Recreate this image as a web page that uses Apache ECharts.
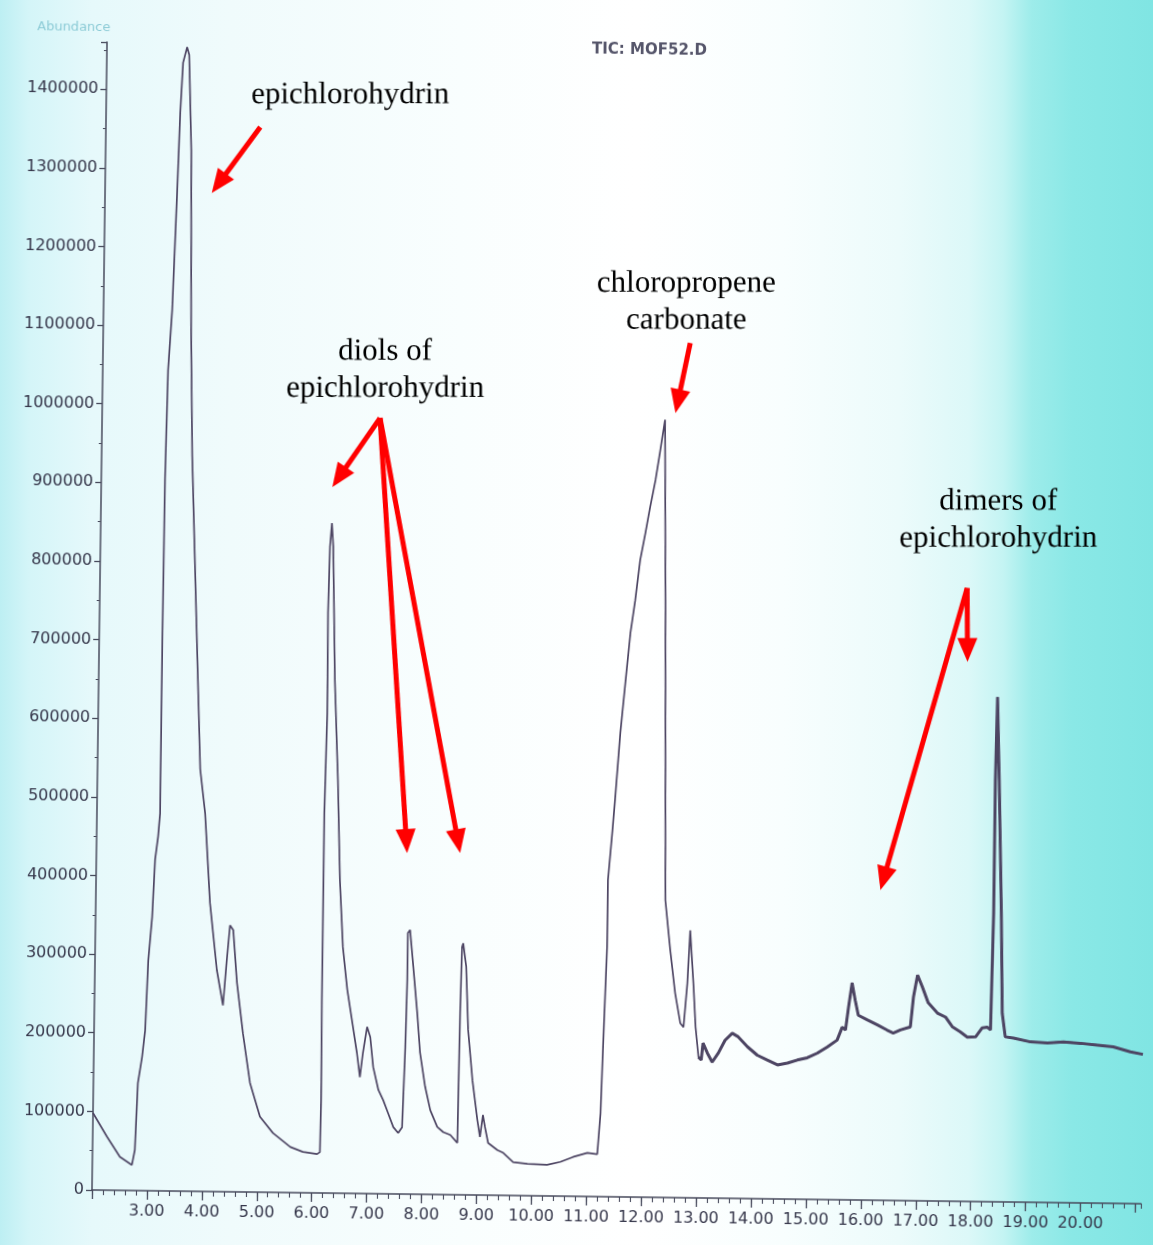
<!DOCTYPE html>
<html>
<head>
<meta charset="utf-8">
<script src="https://cdn.jsdelivr.net/npm/echarts/dist/echarts.min.js"></script>
<style>
html,body{margin:0;padding:0;width:1153px;height:1245px;overflow:hidden;}
body{background:linear-gradient(to right,#bdeff3 0%,#d4f5f8 2.5%,#e6f9fb 8%,#f0fbfc 20%,#f9fefe 40%,#ffffff 55%,#f8fefe 68%,#ecfbfb 78%,#dcf8f8 84%,#c4f4f3 87%,#9decea 89.5%,#8ae8e6 93%,#80e5e3 100%);}
#chart{position:absolute;left:0;top:0;width:1153px;height:1245px;transform-origin:92px 1190px;transform:rotate(0.75deg);}
</style>
</head>
<body>
<div id="chart"></div>
<script>
// Retention time (min)
const times = [
 2.00,2.26,2.50,2.72,2.77,2.81,2.88,2.93,2.97,3.03,3.07,3.12,3.15,3.15,3.16,3.19,3.25,3.31,3.35,3.39,
 3.46,3.50,3.56,3.60,3.65,3.79,3.87,3.97,4.08,4.22,4.34,4.40,4.45,4.51,4.59,4.71,4.85,5.04,5.28,5.60,
 5.83,6.09,6.14,6.15,6.14,6.14,6.17,6.16,6.18,6.21,6.24,6.30,6.38,6.44,6.51,6.60,6.70,6.79,6.85,6.90,
 6.97,7.03,7.09,7.19,7.28,7.37,7.47,7.56,7.63,7.67,7.69,7.69,7.73,7.79,7.88,7.94,8.04,8.14,8.27,8.38,
 8.51,8.64,8.66,8.68,8.70,8.76,8.81,8.90,9.00,9.05,9.10,9.14,9.20,9.37,9.48,9.66,9.92,10.28,10.52,10.75,
 11.01,11.19,11.24,11.27,11.32,11.32,11.39,11.43,11.51,11.59,11.67,11.75,11.83,11.92,12.00,12.09,12.17,12.25,12.30,12.37,
 12.47,12.57,12.67,12.73,12.79,12.83,12.90,12.95,13.01,13.06,13.09,13.17,13.26,13.37,13.49,13.62,13.73,13.90,14.08,14.26,
 14.45,14.63,14.81,14.99,15.17,15.35,15.53,15.62,15.68,15.73,15.79,15.85,15.91,16.08,16.26,16.44,16.55,16.68,16.86,16.91,
 16.98,17.07,17.18,17.35,17.50,17.63,17.77,17.90,18.05,18.17,18.26,18.32,18.35,18.35,18.37,18.42,18.49,18.53,18.59,18.74,
 19.05,19.36,19.65,19.96,20.27,20.56,20.87,21.10
];
// TIC abundance
const abundance = [
 98000,68000,42500,32500,51500,137000,170000,204000,293000,348000,421000,451000,480000,700000,905000,1044000,1120000,1264000,1371000,1435000,
 1455000,1445000,1324000,1095000,935000,680000,537000,481000,367000,282000,237000,295000,339000,333000,266000,202000,139000,96000,75500,58000,
 52000,49500,52000,118000,245000,483000,610000,738000,822000,852000,822000,653000,525000,398000,313000,259000,217000,179000,148000,179000,
 212000,199000,161000,132000,119000,103000,85000,77500,85000,187000,272000,332000,336000,294000,230000,180000,137000,107000,86000,79500,
 76000,66000,231000,315000,320000,290000,210000,146000,95000,74000,102000,86500,66500,57500,54000,42500,40500,39500,43500,50000,
 55500,54000,106000,190000,318000,403000,466000,505000,590000,654000,717000,759000,810000,845000,878000,912000,950000,989000,760000,378000,
 315000,260000,222000,217000,273000,340000,273000,217000,179000,175500,197000,184500,173000,184500,201000,210000,205500,193000,182500,176500,
 170500,173000,177000,180000,186000,194000,203000,219500,216000,245000,276000,254000,235000,229000,223000,216500,213000,217000,221000,259000,
 287000,272000,252000,239000,234000,221500,215500,209000,209500,221000,222000,218500,367000,536000,642000,536500,367500,240000,210000,208500,
 204000,203000,204500,203000,201000,199000,193000,190000
];
// Axis tick steps (labels 0 ... 1400000 and 3.00 ... 20.00)
const yTickStep = 100000;
const xTickStep = 1;

// Annotation texts and their anchor points (data units)
const labelTexts = ['epichlorohydrin','diols of\nepichlorohydrin','chloropropene\ncarbonate','dimers of\nepichlorohydrin'];
const labelAnchors = [[6.44,1396700],[7.14,1047500],[12.61,1139100],[18.34,867100]];
// Arrows: [fromTime, fromAbundance, toTime, toAbundance]
const arrows = [
 [4.81,1354500,4.07,1282300],
 [7.06,986500,6.33,910600],
 [7.06,986500,7.64,449000],
 [7.06,986500,8.58,449600],
 [12.69,1087000,12.48,1012700],
 [17.79,780100,17.81,701300],
 [17.79,780100,16.34,409300]
];

const seriesData = times.map((t,i)=>[t,abundance[i]]);
// the noisy late part of the trace prints thicker on the scan
const noisyData = seriesData.filter(p=>p[0]>=12.98);
const axisColor = '#474a5c';
const labelColor = '#35364a';
const traceColor = '#4d4563';

const chart = echarts.init(document.getElementById('chart'), null, {renderer:'canvas'});
chart.setOption({
  animation:false,
  backgroundColor:'transparent',
  title:[
    {text:'TIC: MOF52.D', left:572, top:31,
     textStyle:{fontFamily:'DejaVu Sans', fontSize:15, fontWeight:'bold', color:'#55556a'}},
    {text:'Abundance', left:17, top:16,
     textStyle:{fontFamily:'DejaVu Sans', fontSize:13, fontWeight:'normal', color:'#8ccbd6'}}
  ],
  grid:{left:92, right:12, top:42, bottom:55, containLabel:false},
  xAxis:[
    {type:'value', min:2, max:21.1, interval:xTickStep, position:'bottom',
     axisLine:{show:true, lineStyle:{color:axisColor, width:1.5}},
     axisTick:{show:true, inside:false, length:9, lineStyle:{color:axisColor, width:1.3}},
     axisLabel:{show:true, margin:13, showMaxLabel:false, fontFamily:'DejaVu Sans', fontSize:16, color:labelColor,
       formatter:function(v){ return (v>=2.5 && v<=20.5) ? v.toFixed(2) : ''; }},
     splitLine:{show:false}},
    {type:'value', min:2, max:21.1, interval:0.2, position:'bottom',
     axisLine:{show:false},
     axisTick:{show:true, inside:false, length:5, lineStyle:{color:axisColor, width:1.1}},
     axisLabel:{show:false}, splitLine:{show:false}}
  ],
  yAxis:{type:'value', min:0, max:1460000, interval:yTickStep,
    axisLine:{show:true, lineStyle:{color:axisColor, width:1.5}},
    axisTick:{show:true, inside:false, length:6, lineStyle:{color:axisColor, width:1.3}},
    minorTick:{show:true, splitNumber:2, length:3, lineStyle:{color:axisColor, width:1}},
    axisLabel:{show:true, margin:8, showMaxLabel:false, fontFamily:'DejaVu Sans', fontSize:16, color:labelColor,
      formatter:function(v){ return String(Math.round(v)); }},
    splitLine:{show:false}},
  series:[{
    type:'line', xAxisIndex:0, yAxisIndex:0, data:seriesData, symbol:'none', showSymbol:false, silent:true,
    lineStyle:{color:traceColor, width:1.7}, z:3,
    markLine:{silent:true, animation:false, symbol:['none','triangle'], symbolSize:[20,24],
      lineStyle:{color:'#ff0000', width:5, type:'solid', opacity:1},
      itemStyle:{color:'#ff0000'},
      label:{show:false}, emphasis:{disabled:true},
      data:arrows.map(a=>[{coord:[a[0],a[1]]},{coord:[a[2],a[3]]}])},
    markPoint:{silent:true, animation:false, symbol:'circle', symbolSize:0,
      label:{show:true, position:'inside', align:'center', verticalAlign:'middle', rotate:0.75,
        fontFamily:'Liberation Serif', fontSize:31, lineHeight:37, color:'#000000'},
      data:labelTexts.map((s,i)=>({coord:labelAnchors[i], value:0, label:{formatter:s}}))}
  },{
    type:'line', xAxisIndex:0, yAxisIndex:0, data:noisyData, symbol:'none', showSymbol:false, silent:true,
    lineStyle:{color:traceColor, width:3}, z:2
  }]
});
</script>
</body>
</html>
